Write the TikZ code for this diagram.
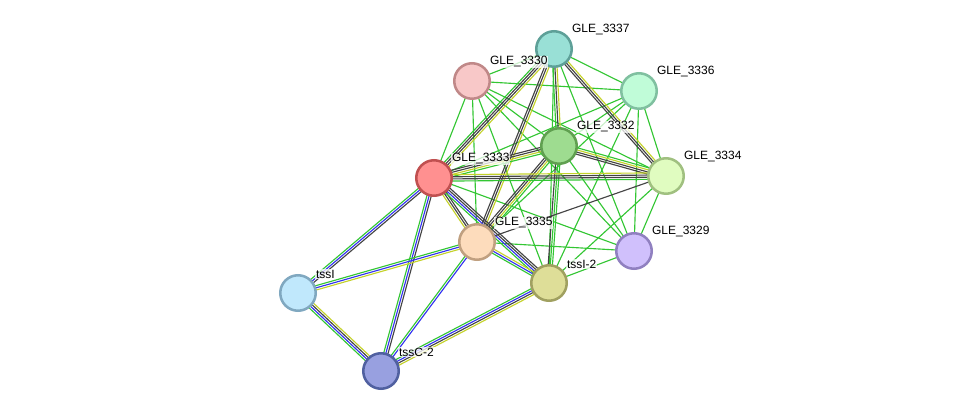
\documentclass[tikz,border=0pt]{standalone}
\usepackage{fontspec}
\setmainfont{Liberation Sans}
\usetikzlibrary{calc}
\definecolor{cg}{HTML}{33C633}
\definecolor{ck}{HTML}{444444}
\definecolor{cy}{HTML}{C4D22A}
\definecolor{cb}{HTML}{3333F0}
\tikzset{
  lg/.style={draw=cg,line width=0.85pt},
  lk/.style={draw=ck,line width=0.85pt},
  ly/.style={draw=cy,line width=0.85pt},
  lb/.style={draw=cb,line width=0.85pt},
  prot/.style={circle,inner sep=0pt,minimum size=26.6pt,line width=1.9pt},
  lab/.style={anchor=west,inner sep=0.6pt,fill=white,fill opacity=0.75,text opacity=1,font=\fontsize{9}{10}\selectfont}
}
\newcommand\medge[3]{%
  \foreach \c [count=\i] in {#3} {\xdef\nn{\i}}%
  \foreach \c [count=\i] in {#3} {%
    \pgfmathsetmacro\off{(\i-(\nn+1)/2)*1.6}%
    \draw[\c] ($(#1)!\off pt!90:(#2)$) -- ($(#2)!\off pt!-90:(#1)$);
  }%
}
\begin{document}
\begin{tikzpicture}[x=0.75pt,y=-0.75pt]
\useasboundingbox (0,0) rectangle (976,416);
\coordinate (A) at (554,49);
\coordinate (B) at (472,81);
\coordinate (C) at (639,91);
\coordinate (D) at (559,146);
\coordinate (E) at (434,178);
\coordinate (F) at (666,176);
\coordinate (H) at (477,242);
\coordinate (I) at (634,251);
\coordinate (J) at (549,283);
\coordinate (K) at (298,293);
\coordinate (L) at (381,371);
% single green edges
\foreach \u/\v in {A/B,A/C,A/J,A/I,B/C,B/D,B/E,B/F,B/H,B/J,B/I,C/D,C/E,C/F,C/H,C/J,C/I,D/I,E/I,F/J,F/I,H/I,J/I}
  \draw[lg] (\u) -- (\v);
% multi edges
\medge{A}{D}{lg,lk,ly}
\medge{A}{E}{lg,lk,lk,ly}
\medge{A}{H}{lk,lk,ly}
\medge{A}{F}{lk,lk,ly}
\medge{D}{E}{lk,lk,ly,lg}
\medge{D}{F}{lk,lk,ly,lg}
\medge{D}{H}{lk,lk,ly,lg}
\medge{D}{J}{lk,lg,lg}
\medge{E}{F}{lg,lk,lk,ly}
\medge{E}{H}{ly,lk,lk}
\medge{E}{J}{lg,lb,lk,lk}
\medge{E}{K}{lg,lb,lk}
\medge{E}{L}{lg,lb,lk}
\medge{F}{H}{lk}
\medge{H}{J}{lg,lb,ly}
\medge{H}{K}{lg,lb,ly}
\medge{H}{L}{lg,lb}
\medge{J}{L}{lg,lb,lk,ly}
\medge{K}{L}{lg,lb,lk,ly}
% proteins
\node[prot,fill={rgb,255:red,153;green,224;blue,214},draw={rgb,255:red,94;green,160;blue,152}] (nA) at (A) {};
\node[prot,fill={rgb,255:red,248;green,200;blue,200},draw={rgb,255:red,192;green,136;blue,136}] (nB) at (B) {};
\node[prot,fill={rgb,255:red,192;green,252;blue,216},draw={rgb,255:red,128;green,192;blue,160}] (nC) at (C) {};
\node[prot,fill={rgb,255:red,158;green,220;blue,144},draw={rgb,255:red,96;green,160;blue,80}] (nD) at (D) {};
\node[prot,fill={rgb,255:red,255;green,144;blue,144},draw={rgb,255:red,192;green,80;blue,80}] (nE) at (E) {};
\node[prot,fill={rgb,255:red,224;green,252;blue,192},draw={rgb,255:red,160;green,192;blue,128}] (nF) at (F) {};
\node[prot,fill={rgb,255:red,253;green,220;blue,188},draw={rgb,255:red,192;green,160;blue,128}] (nH) at (H) {};
\node[prot,fill={rgb,255:red,208;green,192;blue,252},draw={rgb,255:red,144;green,128;blue,192}] (nI) at (I) {};
\node[prot,fill={rgb,255:red,222;green,222;blue,152},draw={rgb,255:red,160;green,160;blue,96}] (nJ) at (J) {};
\node[prot,fill={rgb,255:red,192;green,232;blue,252},draw={rgb,255:red,128;green,168;blue,192}] (nK) at (K) {};
\node[prot,fill={rgb,255:red,152;green,160;blue,224},draw={rgb,255:red,80;green,96;blue,160}] (nL) at (L) {};
% labels
\node[lab] (tA) at ($(A)+(17,-19)$) {GLE\_3337};
\node[lab] (tB) at ($(B)+(17,-19)$) {GLE\_3330};
\node[lab] (tC) at ($(C)+(17,-19)$) {GLE\_3336};
\node[lab] (tD) at ($(D)+(17,-19)$) {GLE\_3332};
\node[lab] (tE) at ($(E)+(17,-19)$) {GLE\_3333};
\node[lab] (tF) at ($(F)+(17,-19)$) {GLE\_3334};
\node[lab] (tH) at ($(H)+(17,-19)$) {GLE\_3335};
\node[lab] (tI) at ($(I)+(17,-19)$) {GLE\_3329};
\node[lab] (tJ) at ($(J)+(17,-19)$) {tssI-2};
\node[lab] (tK) at ($(K)+(17,-19)$) {tssI};
\node[lab] (tL) at ($(L)+(17,-19)$) {tssC-2};
\end{tikzpicture}
\end{document}
